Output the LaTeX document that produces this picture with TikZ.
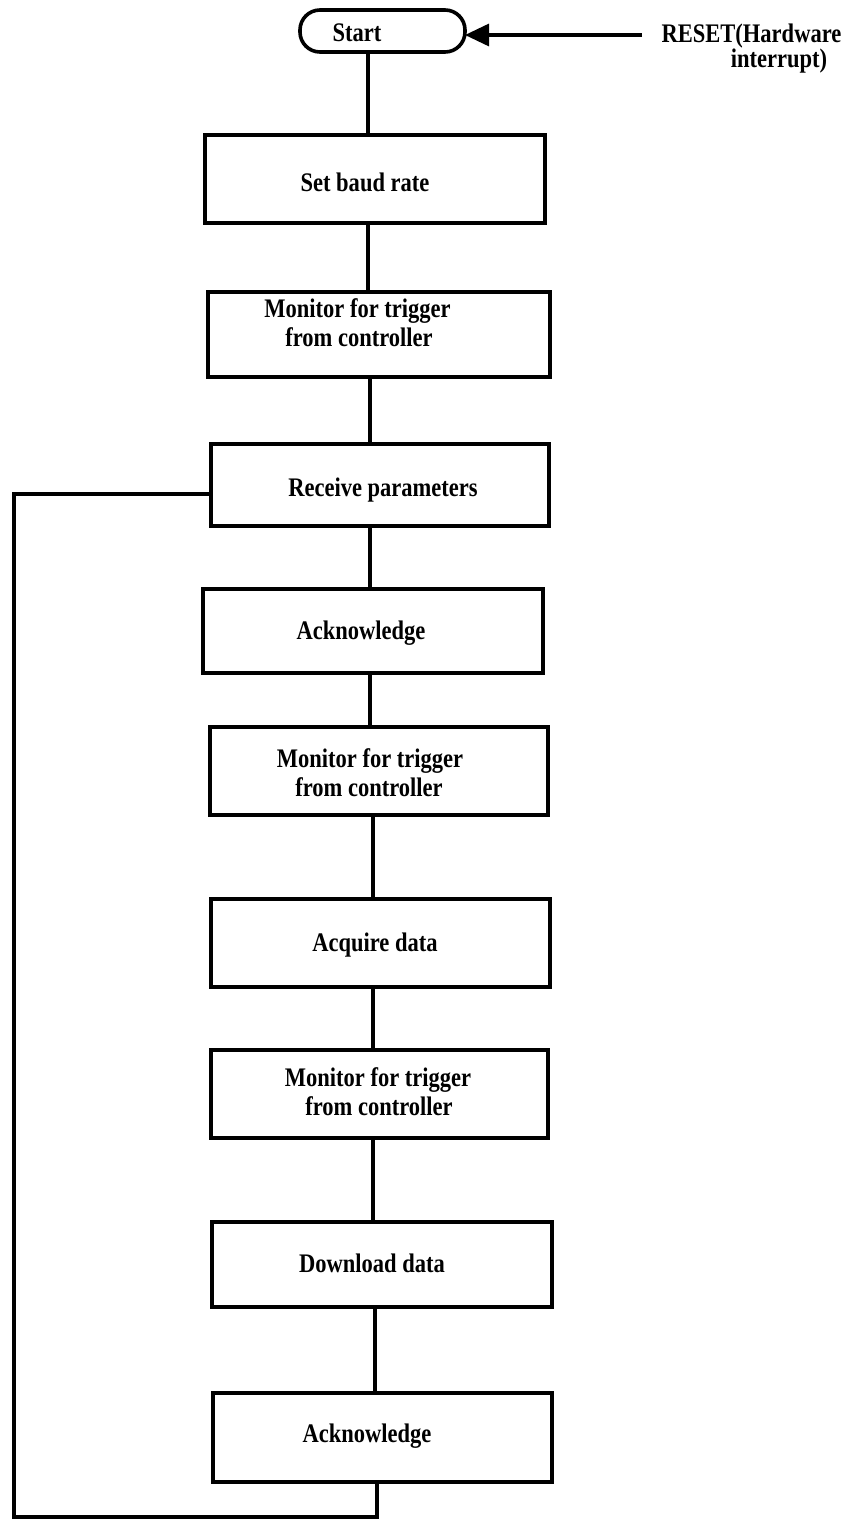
\documentclass[tikz,border=0pt]{standalone}
\usepackage{fontspec}
\setmainfont{Liberation Serif}[FakeStretch=0.84]
\usetikzlibrary{arrows.meta}
\begin{document}
\begin{tikzpicture}[x=1pt,y=-1pt,
  stepbox/.style={draw,line width=3.6pt,outer sep=0pt,inner sep=0pt},
  pill/.style={stepbox,rounded corners=20pt},
  lbl/.style={inner sep=0pt,anchor=base,font=\bfseries\fontsize{26.8}{29}\selectfont},
  conn/.style={line width=3.2pt}]
\useasboundingbox (0,0) rectangle (851,1521);
\fill[white] (0,0) rectangle (851,1521);

% boxes of the flow (centre, width, height in px)
\node[pill,minimum width=165pt,minimum height=42pt] (start) at (382.5,31) {};
\node[stepbox,minimum width=340pt,minimum height=88pt] (baud) at (375,179) {};
\node[stepbox,minimum width=342pt,minimum height=85pt] (mon1) at (379,334.5) {};
\node[stepbox,minimum width=338pt,minimum height=82pt] (recv) at (380,485) {};
\node[stepbox,minimum width=340pt,minimum height=84pt] (ack1) at (373,631) {};
\node[stepbox,minimum width=338pt,minimum height=88pt] (mon2) at (379,771) {};
\node[stepbox,minimum width=339pt,minimum height=88pt] (acq) at (380.5,943) {};
\node[stepbox,minimum width=337pt,minimum height=88pt] (mon3) at (379.5,1094) {};
\node[stepbox,minimum width=340pt,minimum height=85pt] (dl) at (382,1264.5) {};
\node[stepbox,minimum width=339pt,minimum height=89pt] (ack2) at (382.5,1437.5) {};

% texts
\node[lbl] (start-t) at (357,41) {Start};
\node[lbl] (baud-t) at (365,191) {Set baud rate};
\node[lbl] (mon1-a) at (357.5,317) {Monitor for trigger};
\node[lbl] (mon1-b) at (359,346) {from controller};
\node[lbl] (recv-t) at (383,496.5) {Receive parameters};
\node[lbl] (ack1-t) at (361,639) {Acknowledge};
\node[lbl] (mon2-a) at (370,767) {Monitor for trigger};
\node[lbl] (mon2-b) at (369,796.5) {from controller};
\node[lbl] (acq-t) at (375,951) {Acquire data};
\node[lbl] (mon3-a) at (378,1086.5) {Monitor for trigger};
\node[lbl] (mon3-b) at (379,1115.5) {from controller};
\node[lbl] (dl-t) at (372,1272) {Download data};
\node[lbl] (ack2-t) at (367,1442) {Acknowledge};
\node[lbl] (reset-a) at (751.5,42) {RESET(Hardware};
\node[lbl] (reset-b) at (779,67.5) {interrupt)};

% connectors
\draw[conn] (start.south -| 368,0) -- (baud.north -| 368,0);
\draw[conn] (baud.south -| 368,0) -- (mon1.north -| 368,0);
\draw[conn] (mon1.south -| 370,0) -- (recv.north -| 370,0);
\draw[conn] (recv.south -| 370,0) -- (ack1.north -| 370,0);
\draw[conn] (ack1.south -| 370,0) -- (mon2.north -| 370,0);
\draw[conn] (mon2.south -| 373,0) -- (acq.north -| 373,0);
\draw[conn] (acq.south -| 373,0) -- (mon3.north -| 373,0);
\draw[conn] (mon3.south -| 373,0) -- (dl.north -| 373,0);
\draw[conn] (dl.south -| 375,0) -- (ack2.north -| 375,0);

% loop back to receiving parameters
\coordinate (loopr) at (377,1517);
\coordinate (loopl) at (14,1517);
\coordinate (loopt) at (14,494);
\draw[conn,line join=miter] (ack2.south -| loopr) -- (loopr) -- (loopl) -- (loopt) -- (recv.west |- loopt);

% reset input
\coordinate (resetend) at (642,35);
\draw[conn,-{Triangle[length=24pt,width=22pt]}] (resetend) -- (start.east |- resetend);
\end{tikzpicture}
\end{document}
